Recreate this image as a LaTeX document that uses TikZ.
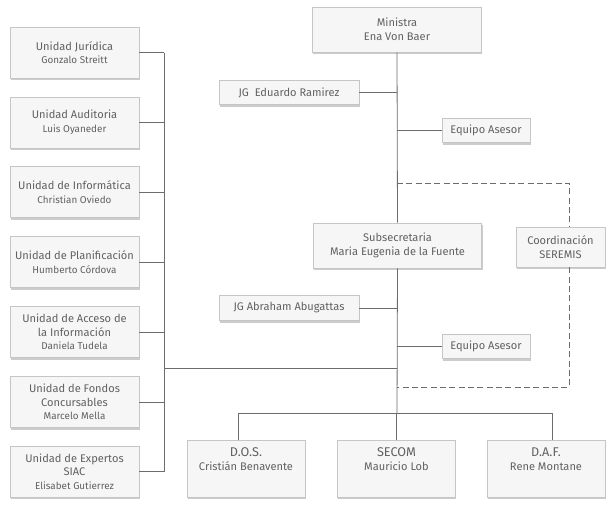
\documentclass[tikz,border=0pt]{standalone}
\usepackage{fontspec}
\setmainfont{Fira Sans}
\usetikzlibrary{positioning,shadows}
\tikzset{
caja/.style={
  rectangle,
  draw=gray!45,
  line width=0.6pt,
  fill=gray!7,
  text=black!62,
  align=center,
  inner sep=0pt,
  font=\fontsize{8.3}{10.2}\selectfont,
  drop shadow={shadow xshift=0.6pt,shadow yshift=-1.8pt,opacity=.5,fill=gray!80}
  },
unidad/.style={caja,minimum width=96.75pt,minimum height=38.25pt},
jefe/.style={caja,minimum width=126.5pt,minimum height=33.75pt},
jg/.style={caja,minimum width=105pt,minimum height=18.5pt},
asesor/.style={caja,minimum width=66pt,minimum height=18.5pt},
depto/.style={caja,minimum width=88.5pt,minimum height=42.75pt},
linea/.style={draw=gray!85!black,line width=0.6pt},
guion/.style={linea,dashed,dash pattern=on 4.5pt off 2.5pt}
}
\newcommand{\nom}[1]{{\fontsize{7.4}{9}\selectfont #1}}

\begin{document}
\begin{tikzpicture}[x=0.75pt,y=-0.75pt]
\useasboundingbox (0,0) rectangle (615,512);

% columna de unidades
\node[unidad] (jur) at (74.5,52.5) {Unidad Jurídica\\\nom{Gonzalo Streitt}};
\node[unidad] (aud) at (74.5,122.5) {Unidad Auditoria\\\nom{Luis Oyaneder}};
\node[unidad] (inf) at (74.5,192) {Unidad de Informática\\\nom{Christian Oviedo}};
\node[unidad] (pla) at (74.5,262) {Unidad de Planificación\\\nom{Humberto Córdova}};
\node[unidad] (acc) at (74.5,332) {Unidad de Acceso de\\la Información\\\nom{Daniela Tudela}};
\node[unidad] (fon) at (74.5,402) {Unidad de Fondos\\Concursables\\\nom{Marcelo Mella}};
\node[unidad] (exp) at (74.5,471.5) {Unidad de Expertos\\SIAC\\\nom{Elisabet Gutierrez}};

% eje central
\node[jefe] (min) at (397,29.5) {Ministra\\Ena Von Baer};
\node[jg] (jg1) at (289,92.5) {JG\ \ Eduardo Ramirez};
\node[asesor] (eq1) at (486,130.5) {Equipo Asesor};
\node[jefe] (sub) at (397.5,245.5) {Subsecretaria\\Maria Eugenia de la Fuente};
\node[jg] (jg2) at (289,308) {JG Abraham Abugattas};
\node[asesor] (eq2) at (486,346.5) {Equipo Asesor};
\node[caja,minimum width=66.75pt,minimum height=30pt] (coord) at (560.5,247) {Coordinación\\SEREMIS};

% divisiones
\node[depto] (dos) at (246,468.5) {{\fontsize{9.5}{11.5}\selectfont D.O.S.}\\Cristián Benavente\\[4pt]};
\node[depto] (secom) at (396.5,468.5) {{\fontsize{9.5}{11.5}\selectfont SECOM}\\Mauricio Lob\\[4pt]};
\node[depto] (daf) at (546,468.5) {{\fontsize{9.5}{11.5}\selectfont D.A.F.}\\Rene Montane\\[4pt]};

\coordinate (trunk) at (164,0);
\coordinate (cruce) at (397,368);
\coordinate (rama) at (397,413);
\coordinate (d1) at (397,183);
\coordinate (d2) at (397,387);

\begin{scope}[linea]
\draw (min.south) -- (sub.north);
\draw (sub.south) -- (rama);
\draw (jg1.east) -- (jg1.east -| min.south);
\draw (eq1.west) -- (eq1.west -| min.south);
\draw (jg2.east) -- (jg2.east -| min.south);
\draw (eq2.west) -- (eq2.west -| min.south);
\foreach \u in {jur,aud,inf,pla,acc,fon,exp}
  \draw (\u.east) -- (\u.east -| trunk);
\draw (jur.east -| trunk) -- (exp.east -| trunk);
\draw (trunk |- cruce) -- (cruce);
\draw ([xshift=-6pt]dos.north |- rama) -- ([xshift=4.5pt]daf.north |- rama);
\draw ([xshift=-6pt]dos.north |- rama) -- ([xshift=-6pt]dos.north);
\draw (secom.north |- rama) -- (secom.north);
\draw ([xshift=4.5pt]daf.north |- rama) -- ([xshift=4.5pt]daf.north);
\end{scope}

\draw[guion] (d1) -| ([xshift=6.4pt]coord.north);
\draw[guion] ([xshift=6.4pt]coord.south) |- (d2);
\end{tikzpicture}
\end{document}
